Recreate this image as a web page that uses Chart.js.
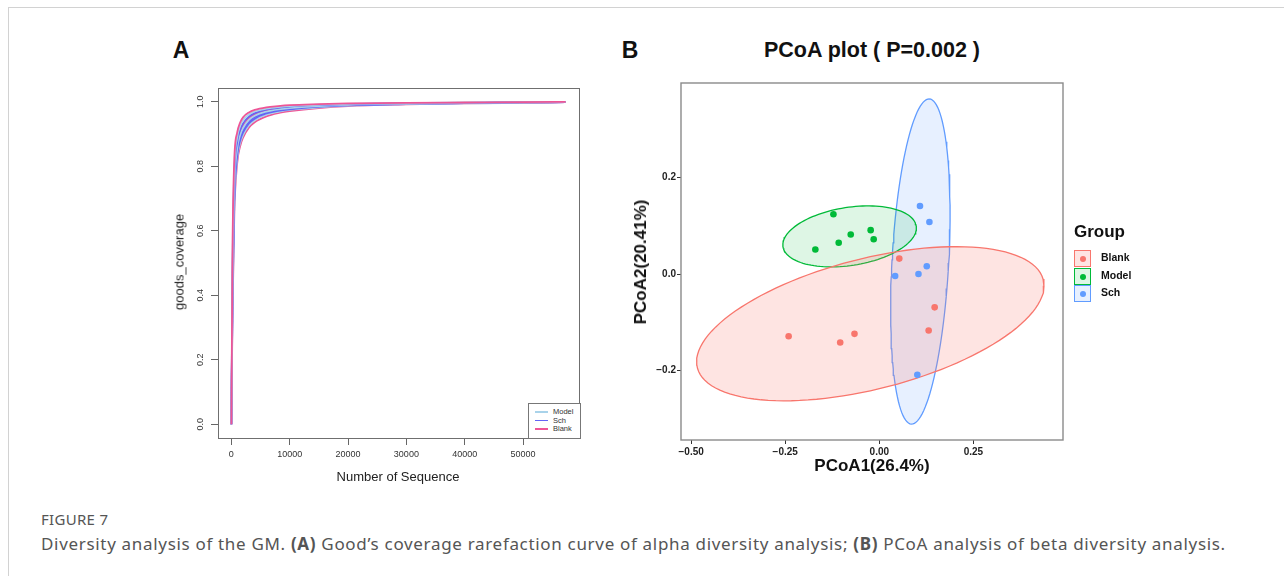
<!DOCTYPE html>
<html><head><meta charset="utf-8">
<script src="https://cdn.jsdelivr.net/npm/chart.js@4.4.1/dist/chart.umd.min.js"></script>
<style>
html,body{margin:0;padding:0;background:#fff;}
body{width:1284px;height:576px;position:relative;overflow:hidden;font-family:"Liberation Sans",Arial,sans-serif;color:#111;}
.frame{position:absolute;left:8px;top:7px;width:1290px;height:600px;border-top:1px solid #d2d2d2;border-left:1px solid #d2d2d2;}
canvas{position:absolute;}
.t{position:absolute;white-space:nowrap;}
.letter{font-weight:bold;font-size:23px;transform:translate(-50%,-50%);}
.legA{position:absolute;left:528px;top:403px;width:51px;height:34px;border:1px solid #777;background:#fff;font-size:7.5px;color:#333;}
.legA .row{position:absolute;left:6px;height:8px;line-height:8px;}
.legA .ln{display:inline-block;width:13px;height:1.5px;vertical-align:middle;margin-right:5px;}
.legB{position:absolute;left:1074px;top:222px;}
.legB .ttl{font-weight:bold;font-size:17px;margin-bottom:8px;}
.legB .row{position:relative;height:17.5px;}
.legB .key{position:absolute;left:0;top:0;width:15px;height:15px;border:1px solid;}
.legB .dot{position:absolute;left:5px;top:5px;width:6px;height:6px;border-radius:50%;}
.legB .lab{position:absolute;left:27px;top:1px;font-weight:bold;font-size:10.5px;}
.cap1{position:absolute;left:41px;top:509px;font-family:"Noto Sans",sans-serif;font-size:15px;letter-spacing:0.3px;color:#555;}
.cap2{position:absolute;left:41px;top:532px;font-family:"Noto Sans",sans-serif;font-size:17px;letter-spacing:0.68px;color:#555;}
</style></head>
<body>
<div class="frame"></div>
<div class="t letter" style="left:181px;top:50px;">A</div>
<div class="t letter" style="left:630px;top:50px;">B</div>
<div class="t" style="left:872px;top:50px;transform:translate(-50%,-50%);font-weight:bold;font-size:21.5px;">PCoA plot ( P=0.002 )</div>
<canvas id="cA" width="450" height="420" style="left:150px;top:80px;"></canvas>
<canvas id="cB" width="470" height="420" style="left:610px;top:70px;"></canvas>
<div class="t" style="left:398px;top:476px;transform:translate(-50%,-50%);font-size:13px;color:#222;">Number of Sequence</div>
<div class="t" style="left:179px;top:262px;transform:translate(-50%,-50%) rotate(-90deg);font-size:13px;color:#222;">goods_coverage</div>
<div class="t" style="left:872px;top:466px;transform:translate(-50%,-50%);font-weight:bold;font-size:17px;">PCoA1(26.4%)</div>
<div class="t" style="left:641px;top:262px;transform:translate(-50%,-50%) rotate(-90deg);font-weight:bold;font-size:17px;">PCoA2(20.41%)</div>
<div class="legA" id="legA"></div>
<div class="legB" id="legB"><div class="ttl">Group</div></div>
<div class="cap1">FIGURE 7</div>
<div class="cap2">Diversity analysis of the GM. <b>(A)</b> Good’s coverage rarefaction curve of alpha diversity analysis; <b>(B)</b> PCoA analysis of beta diversity analysis.</div>
<script>
// ---------- Panel A data ----------
const seqDepth = [0, 200, 500, 1000, 1500, 2000, 3000, 4000, 6000, 8000, 10000, 15000, 20000, 30000, 40000, 50000, 57300];
const blank1 = [0, 0.55, 0.82, 0.905, 0.936, 0.952, 0.967, 0.975, 0.983, 0.987, 0.990, 0.993, 0.995, 0.997, 0.998, 0.999, 1.0];
const model1 = [0, 0.50, 0.79, 0.890, 0.925, 0.943, 0.961, 0.970, 0.979, 0.984, 0.987, 0.991, 0.994, 0.996, 0.998, 0.999, 1.0];
const sch1   = [0, 0.47, 0.77, 0.875, 0.913, 0.933, 0.954, 0.965, 0.976, 0.981, 0.985, 0.990, 0.993, 0.996, 0.997, 0.999, 1.0];
const blank2 = [0, 0.45, 0.75, 0.865, 0.905, 0.926, 0.949, 0.961, 0.973, 0.979, 0.983, 0.989, 0.992, 0.995, 0.997, 0.998, 0.999];
const model2 = [0, 0.43, 0.73, 0.855, 0.897, 0.919, 0.944, 0.957, 0.970, 0.977, 0.981, 0.987, 0.991, 0.994, 0.996, 0.998, 0.999];
const sch2   = [0, 0.41, 0.71, 0.845, 0.889, 0.912, 0.939, 0.953, 0.967, 0.975, 0.979, 0.986, 0.990, 0.994, 0.996, 0.998, 0.999];
const sch3   = [0, 0.39, 0.69, 0.833, 0.880, 0.905, 0.933, 0.948, 0.964, 0.972, 0.977, 0.985, 0.989, 0.993, 0.996, 0.998, 0.999];
const model3 = [0, 0.37, 0.67, 0.822, 0.872, 0.897, 0.927, 0.943, 0.960, 0.969, 0.975, 0.983, 0.988, 0.993, 0.995, 0.997, 0.999];
const blank3 = [0, 0.35, 0.65, 0.810, 0.862, 0.889, 0.920, 0.937, 0.955, 0.965, 0.971, 0.981, 0.987, 0.992, 0.995, 0.997, 0.999];
const xTicksA = [0, 10000, 20000, 30000, 40000, 50000];
const yTicksA = [0, 0.2, 0.4, 0.6, 0.8, 1.0];
const yTickLabelsA = ['0.0', '0.2', '0.4', '0.6', '0.8', '1.0'];
const legendA = ['Model', 'Sch', 'Blank'];

// ---------- Panel B data ----------
const groupsB = ['Blank', 'Model', 'Sch'];
const blankPC1 = [0.053, 0.147, -0.241, -0.104, -0.066, 0.131];
const blankPC2 = [0.032, -0.069, -0.129, -0.142, -0.124, -0.117];
const modelPC1 = [-0.122, -0.170, -0.108, -0.076, -0.023, -0.015];
const modelPC2 = [0.124, 0.051, 0.065, 0.082, 0.091, 0.072];
const schPC1 = [0.108, 0.133, 0.126, 0.104, 0.042, 0.101];
const schPC2 = [0.141, 0.108, 0.016, 0.000, -0.004, -0.209];
// ellipse: centre (x,y), conjugate semi-axis U (dx,dy), V (dx,dy) in data units
const blankEllipse = [-0.024, -0.103, 0.4615, 0.0788, 0, -0.139];
const modelEllipse = [-0.079, 0.078, 0.177, 0.0214, -0.0117, 0.0595];
const schEllipse = [0.109, 0.026, 0.0239, 0.337, 0.0753, -0.0033];
const xTicksB = [-0.5, -0.25, 0, 0.25];
const xTickLabelsB = ['\u22120.50', '\u22120.25', '0.00', '0.25'];
const yTicksB = [-0.2, 0, 0.2];
const yTickLabelsB = ['\u22120.2', '0.0', '0.2'];

const colA = {Model: '#a9d3ea', Sch: '#6464f5', Blank: '#ee5596'};
const colB = {Blank: '#F8766D', Model: '#00BA38', Sch: '#619CFF'};
const fillB = {Blank: 'rgba(248,118,109,0.2)', Model: 'rgba(0,186,56,0.13)', Sch: 'rgba(97,156,255,0.15)'};

Chart.defaults.font.family = '"Liberation Sans", Arial, sans-serif';

// ---------- Panel A chart ----------
const curves = [
  ['Blank', blank1], ['Model', model1], ['Sch', sch1], ['Model', model2], ['Blank', blank2],
  ['Sch', sch2], ['Sch', sch3], ['Model', model3], ['Blank', blank3]
];
const dsA = curves.map(([g, arr]) => ({
  data: seqDepth.map((x, i) => ({x: x, y: arr[i]})),
  showLine: true, pointRadius: 0, borderWidth: 1.8, borderColor: colA[g],
  cubicInterpolationMode: 'monotone', fill: false
}));

const boxA = {
  id: 'boxA',
  afterDatasetsDraw(chart) {
    const {ctx, chartArea: a, scales} = chart;
    ctx.save();
    ctx.strokeStyle = '#6f6f6f'; ctx.lineWidth = 1;
    ctx.strokeRect(Math.round(a.left) + 0.5, Math.round(a.top) + 0.5, Math.round(a.right - a.left), Math.round(a.bottom - a.top));
    ctx.fillStyle = '#333'; ctx.font = '9px "Liberation Sans", Arial, sans-serif';
    ctx.textAlign = 'center'; ctx.textBaseline = 'middle';
    yTicksA.forEach((v, i) => {
      const y = scales.y.getPixelForValue(v);
      ctx.save(); ctx.translate(a.left - 17, y); ctx.rotate(-Math.PI / 2);
      ctx.fillText(yTickLabelsA[i], 0, 0); ctx.restore();
    });
    ctx.restore();
  }
};

new Chart(document.getElementById('cA'), {
  type: 'scatter',
  data: {datasets: dsA},
  options: {
    responsive: false, animation: false, devicePixelRatio: 1,
    layout: {padding: {left: 0, top: 8, right: 21, bottom: 0}},
    plugins: {legend: {display: false}, tooltip: {enabled: false}},
    scales: {
      x: {type: 'linear', min: -2292, max: 59592,
          afterBuildTicks: s => { s.ticks = xTicksA.map(v => ({value: v})); },
          afterFit: s => { s.height = 62; },
          ticks: {autoSkip: false, maxRotation: 0, padding: 4, color: '#333', font: {size: 9},
                  callback: v => String(v)},
          grid: {drawOnChartArea: false, tickLength: 7, color: '#666'},
          border: {display: false}},
      y: {type: 'linear', min: -0.043, max: 1.043,
          afterBuildTicks: s => { s.ticks = yTicksA.map(v => ({value: v})); },
          afterFit: s => { s.width = 68; },
          ticks: {display: false},
          grid: {drawOnChartArea: false, tickLength: 7, color: '#666'},
          border: {display: false}}
    }
  },
  plugins: [boxA]
});

// legend A (HTML)
const legA = document.getElementById('legA');
legendA.forEach((g, i) => {
  const r = document.createElement('div'); r.className = 'row'; r.style.top = (4 + i * 8.5) + 'px';
  r.innerHTML = '<span class="ln" style="background:' + colA[g] + '"></span>' + g;
  legA.appendChild(r);
});

// ---------- Panel B chart ----------
function ellipsePts(e) {
  const pts = [];
  for (let k = 0; k <= 120; k++) {
    const t = 2 * Math.PI * k / 120;
    pts.push({x: e[0] + e[2] * Math.cos(t) + e[4] * Math.sin(t), y: e[1] + e[3] * Math.cos(t) + e[5] * Math.sin(t)});
  }
  return pts;
}
const pcData = {Blank: [blankPC1, blankPC2], Model: [modelPC1, modelPC2], Sch: [schPC1, schPC2]};
const ellData = {Blank: blankEllipse, Model: modelEllipse, Sch: schEllipse};
const dsB = [];
groupsB.forEach(g => {
  dsB.push({data: pcData[g][0].map((x, i) => ({x: x, y: pcData[g][1][i]})),
            pointRadius: 3.3, pointBackgroundColor: colB[g], pointBorderWidth: 0, showLine: false});
});
groupsB.forEach(g => {
  dsB.push({data: ellipsePts(ellData[g]), showLine: true, pointRadius: 0, borderColor: colB[g],
            borderWidth: 1.3, backgroundColor: fillB[g], fill: 'shape', tension: 0});
});

const boxB = {
  id: 'boxB',
  afterDatasetsDraw(chart) {
    const {ctx, chartArea: a} = chart;
    ctx.save(); ctx.strokeStyle = '#8a8a8a'; ctx.lineWidth = 1.4;
    ctx.strokeRect(a.left, a.top, a.right - a.left, a.bottom - a.top);
    ctx.restore();
  }
};

new Chart(document.getElementById('cB'), {
  type: 'scatter',
  data: {datasets: dsB},
  options: {
    responsive: false, animation: false, devicePixelRatio: 1,
    layout: {padding: {left: 0, top: 13, right: 17, bottom: 0}},
    plugins: {legend: {display: false}, tooltip: {enabled: false}},
    scales: {
      x: {type: 'linear', min: -0.527, max: 0.488,
          afterBuildTicks: s => { s.ticks = xTicksB.map(v => ({value: v})); },
          afterFit: s => { s.height = 50; },
          ticks: {autoSkip: false, maxRotation: 0, padding: 2, color: '#222', font: {size: 10, weight: 'bold'},
                  callback: (v, i) => xTickLabelsB[i]},
          grid: {drawOnChartArea: false, tickLength: 4, color: '#333'},
          border: {display: false}},
      y: {type: 'linear', min: -0.344, max: 0.396,
          afterBuildTicks: s => { s.ticks = yTicksB.map(v => ({value: v})); },
          afterFit: s => { s.width = 71; },
          ticks: {autoSkip: false, padding: 1, color: '#222', font: {size: 10, weight: 'bold'},
                  callback: (v, i) => yTickLabelsB[i]},
          grid: {drawOnChartArea: false, tickLength: 4, color: '#333'},
          border: {display: false}}
    }
  },
  plugins: [boxB]
});

// legend B (HTML)
const legB = document.getElementById('legB');
groupsB.forEach(g => {
  const r = document.createElement('div'); r.className = 'row';
  r.innerHTML = '<div class="key" style="border-color:' + colB[g] + ';background:' + fillB[g] + '"><div class="dot" style="background:' + colB[g] + '"></div></div><div class="lab">' + g + '</div>';
  legB.appendChild(r);
});
</script>
</body></html>
